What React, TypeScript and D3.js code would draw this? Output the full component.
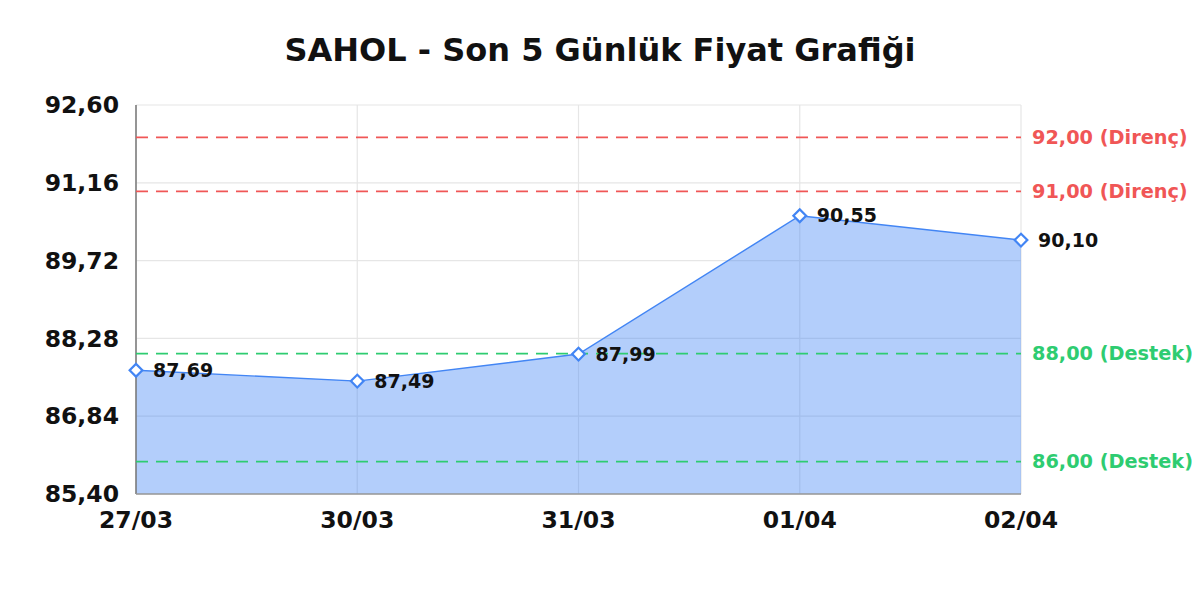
import * as d3 from "d3"

const dates = ["27/03", "30/03", "31/03", "01/04", "02/04"]
const prices = [87.69, 87.49, 87.99, 90.55, 90.1]
const yTicks = [85.4, 86.84, 88.28, 89.72, 91.16, 92.6]
const resistance = [92, 91]
const support = [88, 86]

const title = "SAHOL - Son 5 Günlük Fiyat Grafiği"
const font = "'DejaVu Sans', sans-serif"

const fmt = (v: number) => v.toFixed(2).replace(".", ",")

export default function App() {
  const width = 1200
  const height = 600
  const margin = { top: 105, right: 179, bottom: 106, left: 136 }

  const x = d3
    .scalePoint<string>()
    .domain(dates)
    .range([margin.left, width - margin.right])

  const y = d3
    .scaleLinear()
    .domain([yTicks[0], yTicks[yTicks.length - 1]])
    .range([height - margin.bottom, margin.top])

  const pts: [number, number][] = prices.map((p, i) => [x(dates[i]) as number, y(p)])

  const area = d3
    .area<[number, number]>()
    .x((d) => d[0])
    .y0(y.range()[0])
    .y1((d) => d[1])
  const line = d3.line<[number, number]>()

  const x0 = x.range()[0]
  const x1 = x.range()[1]
  const yBottom = y.range()[0]
  const yTop = y.range()[1]

  const levels = [
    ...resistance.map((v) => ({ v, label: `${fmt(v)} (Direnç)`, color: "#f05656" })),
    ...support.map((v) => ({ v, label: `${fmt(v)} (Destek)`, color: "#2ecc71" })),
  ]

  return (
    <svg width={width} height={height} style={{ display: "block", margin: -8, fontFamily: font }}>
      <rect width={width} height={height} fill="#fff" />

      <text x={600} y={61} textAnchor="middle" fontSize={32} fontWeight="bold" fill="#111">
        {title}
      </text>

      {/* grid */}
      {yTicks.map((t) => (
        <line key={"gy" + t} x1={x0} x2={x1} y1={y(t)} y2={y(t)} stroke="#e6e6e6" strokeWidth={1.2} />
      ))}
      {dates.map((d) => (
        <line key={"gx" + d} x1={x(d)} x2={x(d)} y1={yTop} y2={yBottom} stroke="#e6e6e6" strokeWidth={1.2} />
      ))}

      {/* area + line */}
      <path d={area(pts) ?? ""} fill="rgba(66,133,244,0.4)" />
      <path d={line(pts) ?? ""} fill="none" stroke="#4285f4" strokeWidth={1.4} />

      {/* axes */}
      <line x1={x0} x2={x0} y1={yTop} y2={yBottom} stroke="#777" strokeWidth={1.5} />
      <line x1={x0} x2={x1} y1={yBottom} y2={yBottom} stroke="#999" strokeWidth={1.5} />

      {/* support / resistance */}
      {levels.map((l) => (
        <g key={"lv" + l.v}>
          <line
            x1={x0}
            x2={x1}
            y1={y(l.v)}
            y2={y(l.v)}
            stroke={l.color}
            strokeWidth={1.8}
            strokeDasharray="12,8"
          />
          <text x={x1 + 11} y={y(l.v)} dy="0.35em" fontSize={19.3} fontWeight="bold" fill={l.color}>
            {l.label}
          </text>
        </g>
      ))}

      {/* markers and labels */}
      {pts.map(([px, py], i) => (
        <g key={"pt" + i}>
          <rect
            x={px - 4.5}
            y={py - 4.5}
            width={9}
            height={9}
            fill="#fff"
            stroke="#4285f4"
            strokeWidth={2.2}
            transform={`rotate(45 ${px} ${py})`}
          />
          <text x={px + 17} y={py} dy="0.35em" fontSize={19} fontWeight="bold" fill="#111">
            {fmt(prices[i])}
          </text>
        </g>
      ))}

      {/* tick labels */}
      {yTicks.map((t) => (
        <text key={"ty" + t} x={x0 - 17} y={y(t)} dy="0.35em" textAnchor="end" fontSize={23.5} fontWeight="bold" fill="#111">
          {fmt(t)}
        </text>
      ))}
      {dates.map((d) => (
        <text key={"tx" + d} x={x(d)} y={yBottom + 34} textAnchor="middle" fontSize={23.5} fontWeight="bold" fill="#111">
          {d}
        </text>
      ))}
    </svg>
  )
}
